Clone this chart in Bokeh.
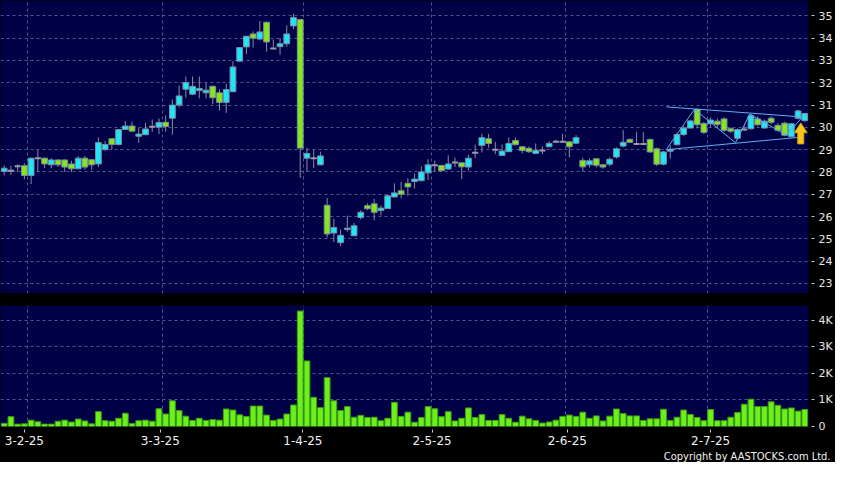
from bokeh.plotting import figure
from bokeh.layouts import column
from bokeh.models import FixedTicker, Range1d, Title
from bokeh.embed import file_html
from bokeh.resources import INLINE

# ---------------- data ----------------
opens = [28.02, 28.06, 28.26, 28.28, 27.84, 28.62, 28.62, 28.32, 28.54, 28.54,
         28.36, 28.14, 28.62, 28.55, 28.36, 29.00, 29.49, 29.23, 29.91, 30.06,
         29.60, 29.67, 30.03, 30.01, 30.23, 30.41, 31.00, 31.71, 31.49, 31.65,
         31.55, 31.84, 31.55, 31.12, 31.60, 32.97, 33.61, 34.19, 33.96, 34.71,
         33.54, 33.62, 33.75, 34.55, 34.84, 28.62, 28.61, 28.32, 26.51, 25.26,
         24.83, 25.42, 25.14, 25.96, 26.49, 26.57, 26.27, 26.36, 26.88, 27.16,
         27.49, 27.57, 27.61, 27.96, 28.30, 28.29, 28.13, 28.42, 28.41, 28.22,
         28.86, 29.19, 29.49, 29.00, 28.74, 28.91, 29.41, 29.13, 29.06, 28.83,
         28.96, 29.13, 29.35, 29.35, 29.35, 29.29, 28.52, 28.32, 28.59, 28.32,
         28.35, 28.67, 29.16, 29.46, 29.26, 29.26, 29.46, 29.04, 28.35, 28.93,
         29.22, 29.68, 29.97, 30.81, 30.17, 30.16, 30.28, 30.38, 29.94, 29.51,
         29.90, 29.94, 30.38, 29.97, 30.41, 30.09, 30.19, 29.58, 30.41, 30.30]
highs = [28.30, 28.28, 28.35, 28.39, 28.64, 28.99, 28.64, 28.62, 28.56, 28.56,
         28.50, 28.72, 28.72, 28.58, 29.55, 29.38, 29.52, 29.92, 30.29, 30.26,
         29.99, 30.20, 30.36, 30.40, 30.54, 31.26, 31.88, 32.28, 32.28, 32.28,
         31.99, 31.88, 31.70, 31.96, 32.96, 33.58, 34.09, 34.30, 34.77, 34.75,
         33.94, 34.01, 34.57, 35.10, 34.86, 29.09, 28.99, 28.91, 26.84, 25.90,
         25.42, 26.04, 25.71, 26.29, 26.59, 26.80, 26.50, 27.00, 27.49, 27.55,
         27.72, 27.93, 28.25, 28.57, 28.51, 28.32, 28.75, 28.65, 28.43, 28.77,
         29.23, 29.71, 29.71, 29.35, 29.23, 29.55, 29.54, 29.15, 29.15, 29.28,
         29.15, 29.38, 29.45, 29.72, 29.38, 29.65, 28.64, 28.60, 28.62, 28.35,
         28.65, 29.10, 29.88, 29.50, 29.80, 29.80, 29.50, 29.10, 28.95, 29.20,
         29.75, 30.05, 30.35, 30.85, 30.25, 30.45, 30.40, 30.45, 30.00, 29.95,
         30.05, 30.60, 30.50, 30.35, 30.50, 30.20, 30.25, 30.20, 30.80, 30.65]
lows = [27.85, 27.86, 28.00, 27.67, 27.46, 28.00, 28.17, 28.17, 28.22, 28.00,
        28.00, 28.14, 28.10, 28.10, 28.22, 28.95, 29.00, 29.20, 29.90, 29.83,
        29.30, 29.67, 29.80, 29.70, 29.81, 29.67, 30.90, 31.33, 31.45, 31.30,
        31.30, 31.04, 30.75, 30.65, 31.58, 32.95, 33.29, 33.58, 33.90, 33.39,
        33.50, 33.26, 33.61, 34.40, 27.74, 28.03, 28.17, 28.30, 25.06, 24.86,
        24.67, 25.32, 25.12, 25.87, 26.30, 25.83, 26.05, 26.34, 26.85, 26.81,
        26.94, 27.25, 27.58, 27.64, 28.00, 28.00, 28.10, 28.22, 27.68, 28.07,
        28.62, 28.87, 29.09, 28.80, 28.72, 28.90, 29.20, 28.83, 28.85, 28.80,
        28.80, 29.10, 29.30, 29.30, 28.65, 29.25, 28.03, 28.20, 28.20, 28.15,
        28.25, 28.60, 29.10, 29.30, 29.20, 29.20, 28.85, 28.27, 28.30, 28.60,
        29.20, 29.60, 29.95, 29.95, 29.70, 30.00, 30.00, 29.80, 29.75, 29.45,
        29.85, 29.90, 30.05, 29.95, 30.15, 29.80, 29.60, 29.55, 30.35, 30.25]
closes = [28.17, 28.06, 28.26, 27.84, 28.62, 28.62, 28.36, 28.54, 28.32, 28.22,
          28.14, 28.62, 28.22, 28.32, 29.32, 29.23, 29.23, 29.90, 30.06, 29.83,
          29.70, 29.93, 30.03, 30.22, 30.04, 31.00, 31.41, 32.01, 31.84, 31.74,
          31.67, 31.33, 31.12, 31.70, 32.71, 33.58, 34.09, 34.00, 34.28, 33.83,
          33.54, 33.75, 34.19, 34.93, 29.07, 28.83, 28.61, 28.72, 25.22, 25.51,
          25.16, 25.48, 25.59, 26.19, 26.35, 26.19, 26.38, 26.93, 27.06, 27.00,
          27.33, 27.68, 28.00, 28.32, 28.30, 28.06, 28.36, 28.42, 28.23, 28.62,
          28.86, 29.54, 29.28, 29.00, 28.94, 29.28, 29.22, 28.96, 28.91, 28.97,
          28.96, 29.28, 29.35, 29.35, 29.13, 29.54, 28.23, 28.50, 28.30, 28.22,
          28.57, 29.04, 29.33, 29.33, 29.26, 29.26, 28.90, 28.35, 28.90, 29.00,
          29.68, 29.97, 30.29, 30.12, 29.77, 30.33, 30.13, 29.87, 29.83, 29.90,
          29.90, 30.52, 30.12, 30.28, 30.23, 29.87, 29.65, 30.16, 30.74, 30.62]
volume_k = [0.12, 0.37, 0.09, 0.10, 0.24, 0.18, 0.09, 0.09, 0.20, 0.24,
            0.17, 0.28, 0.21, 0.10, 0.56, 0.22, 0.20, 0.31, 0.50, 0.11,
            0.22, 0.24, 0.20, 0.67, 0.47, 0.97, 0.60, 0.39, 0.23, 0.31,
            0.23, 0.26, 0.24, 0.66, 0.62, 0.44, 0.38, 0.77, 0.77, 0.43,
            0.23, 0.28, 0.47, 0.81, 4.35, 2.47, 1.10, 0.71, 1.84, 0.97,
            0.60, 0.75, 0.35, 0.42, 0.34, 0.35, 0.22, 0.31, 0.91, 0.38,
            0.54, 0.16, 0.34, 0.75, 0.67, 0.37, 0.56, 0.21, 0.31, 0.70,
            0.34, 0.45, 0.23, 0.23, 0.45, 0.31, 0.16, 0.39, 0.29, 0.23,
            0.13, 0.17, 0.24, 0.38, 0.43, 0.38, 0.54, 0.31, 0.40, 0.21,
            0.39, 0.66, 0.49, 0.40, 0.40, 0.23, 0.29, 0.29, 0.65, 0.23,
            0.35, 0.62, 0.45, 0.34, 0.22, 0.64, 0.22, 0.22, 0.35, 0.53,
            0.84, 1.03, 0.75, 0.75, 0.93, 0.80, 0.66, 0.70, 0.58, 0.64]

date_labels = ["3-2-25", "3-3-25", "1-4-25", "2-5-25", "2-6-25", "2-7-25"]
date_label_idx = [3.0, 23.2, 44.4, 63.6, 83.7, 105.0]
month_start_idx = [3.5, 23.5, 44.5, 63.5, 83.5, 104.5]
price_ticks = list(range(23, 36))
volume_ticks = [0, 1, 2, 3, 4]
volume_tick_labels = ["0", "1K", "2K", "3K", "4K"]

# triangle pattern drawn by the site (index, price)
tri_upper_idx = [98.4, 119.4]
tri_upper_px = [30.92, 30.45]
tri_lower_idx = [98.4, 118.0]
tri_lower_px = [29.00, 29.55]
zigzag_idx = [98.4, 102.6, 108.7, 110.8, 116.3, 118.6]
zigzag_px = [29.00, 30.81, 29.31, 30.59, 29.65, 30.45]
arrow_idx = 118.4
arrow_tip_px = 30.20
arrow_base_px = 29.26

# ---------------- style ----------------
BG = "#000046"
CYAN = "#1ee6f8"
GREEN = "#84e61e"
EDGE = "#7d8aa0"
WICK = "#8c8c9c"
GRID = "#55558c"
TXT = "#e6e6e6"
FONT = "DejaVu Sans"
N = len(opens)
idx = list(range(N))
XR = (-0.55, N - 0.45)

up_i = [i for i in idx if closes[i] > opens[i]]
dn_i = [i for i in idx if closes[i] < opens[i]]
dj_i = [i for i in idx if closes[i] == opens[i]]


def style_right_axis(a, ticks):
    a.ticker = FixedTicker(ticks=ticks)
    a.axis_line_color = None
    a.major_tick_in = -3
    a.major_tick_out = 6
    a.major_tick_line_color = "#c8c8c8"
    a.minor_tick_line_color = None
    a.major_label_text_color = TXT
    a.major_label_text_font = FONT
    a.major_label_text_font_size = "11px"
    a.major_label_standoff = 4


def style_grid(fig, xticks, yticks):
    fig.xgrid.ticker = FixedTicker(ticks=xticks)
    fig.ygrid.ticker = FixedTicker(ticks=yticks)
    for g in (fig.xgrid, fig.ygrid):
        g.grid_line_color = GRID
        g.grid_line_dash = "3 3"
        g.grid_line_width = 1


# ---------------- price panel ----------------
p = figure(frame_width=808, frame_height=293, x_range=Range1d(*XR), y_range=Range1d(22.55, 35.69),
           output_backend="svg", toolbar_location=None, y_axis_location="right",
           background_fill_color=BG, border_fill_color="black", outline_line_color=None,
           min_border_left=0, min_border_right=26, min_border_top=0, min_border_bottom=0)
p.xaxis.visible = False
style_grid(p, month_start_idx, price_ticks)
style_right_axis(p.yaxis[0], price_ticks)

p.segment(x0=idx, y0=lows, x1=idx, y1=highs, line_color=WICK, line_width=1)
p.vbar(x=up_i, width=0.86, top=[closes[i] for i in up_i], bottom=[opens[i] for i in up_i],
       fill_color=CYAN, line_color=EDGE, line_width=1)
p.vbar(x=dn_i, width=0.86, top=[opens[i] for i in dn_i], bottom=[closes[i] for i in dn_i],
       fill_color=GREEN, line_color=EDGE, line_width=1)
p.segment(x0=[i - 0.45 for i in dj_i], y0=[opens[i] for i in dj_i],
          x1=[i + 0.45 for i in dj_i], y1=[closes[i] for i in dj_i],
          line_color="#9a9aaa", line_width=2)

p.line(tri_upper_idx, tri_upper_px, line_color="#5fb0f0", line_width=1)
p.line(tri_lower_idx, tri_lower_px, line_color="#5fb0f0", line_width=1)
p.line(zigzag_idx, zigzag_px, line_color="#5fb0f0", line_width=1)

head_h = (arrow_tip_px - arrow_base_px) * 0.47
p.patch(x=[arrow_idx, arrow_idx + 0.95, arrow_idx + 0.45, arrow_idx + 0.45,
           arrow_idx - 0.45, arrow_idx - 0.45, arrow_idx - 0.95],
        y=[arrow_tip_px, arrow_tip_px - head_h, arrow_tip_px - head_h, arrow_base_px,
           arrow_base_px, arrow_tip_px - head_h, arrow_tip_px - head_h],
        fill_color="#f8c81e", line_color="#d8a000", line_width=1)

# ---------------- volume panel ----------------
v = figure(frame_width=808, frame_height=121, x_range=p.x_range, y_range=Range1d(0, 4.56),
           output_backend="svg", toolbar_location=None, y_axis_location="right",
           background_fill_color=BG, border_fill_color="black", outline_line_color=None,
           min_border_left=0, min_border_right=26, min_border_top=12, min_border_bottom=20)
style_grid(v, month_start_idx, volume_ticks[1:])
style_right_axis(v.yaxis[0], volume_ticks)
v.yaxis[0].major_label_overrides = {t: s for t, s in zip(volume_ticks, volume_tick_labels)}

vx = v.xaxis[0]
vx.ticker = FixedTicker(ticks=date_label_idx)
vx.major_label_overrides = {t: s for t, s in zip(date_label_idx, date_labels)}
vx.axis_line_color = None
vx.major_tick_in = -3
vx.major_tick_out = 6
vx.major_tick_line_color = "#c8c8c8"
vx.minor_tick_line_color = None
vx.major_label_text_color = "#f0f0f0"
vx.major_label_text_font = FONT
vx.major_label_text_font_size = "12px"
vx.major_label_standoff = 3

v.vbar(x=idx, width=0.86, top=volume_k, bottom=0, fill_color="#6cf01c", line_color="#3c9c10", line_width=1)

v.add_layout(Title(text="Copyright by AASTOCKS.com Ltd.", align="right", offset=-22,
                   text_color="#f0f0f0",
                   text_font="DejaVu Sans Condensed, DejaVu Sans",
                   text_font_size="11px", text_font_style="normal", standoff=0), "below")

layout = column(p, v, spacing=0, background="black", styles={"background-color": "black"})
open("out.html", "w").write(file_html(layout, INLINE))
